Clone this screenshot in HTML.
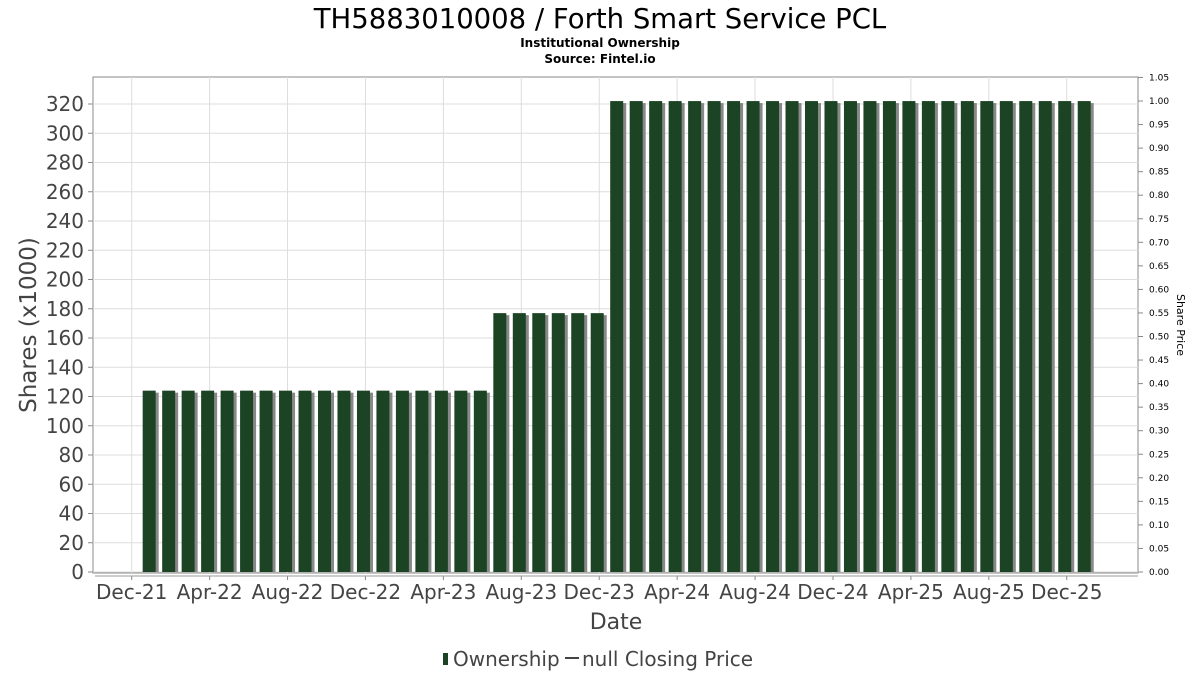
<!DOCTYPE html>
<html><head><meta charset="utf-8"><style>
body{margin:0;background:#fff;font-family:"DejaVu Sans","Liberation Sans",sans-serif}
</style></head><body>
<svg id="c" width="1200" height="675" xmlns="http://www.w3.org/2000/svg">
<text x="600" y="28" text-anchor="middle" font-size="27.5" fill="#000">TH5883010008 / Forth Smart Service PCL</text>
<text x="600" y="47" text-anchor="middle" font-size="12" font-weight="bold">Institutional Ownership</text>
<text x="600" y="63" text-anchor="middle" font-size="12" font-weight="bold">Source: Fintel.io</text>
<rect x="93" y="77" width="1045" height="496" fill="#fff" stroke="#888"/>
<g id="grid"></g><g id="bars"></g><g id="axes"></g>
<text transform="translate(36,325) rotate(-90)" text-anchor="middle" font-size="23" fill="#444">Shares (x1000)</text>
<text transform="translate(1177,325) rotate(90)" text-anchor="middle" font-size="11" fill="#000">Share Price</text>
<text x="616" y="629" text-anchor="middle" font-size="22" fill="#444">Date</text>
<g>
<rect x="443" y="653" width="5" height="12" fill="#1c4424"/>
<text x="453" y="666" font-size="20" fill="#444">Ownership</text>
<line x1="565" y1="658" x2="579" y2="658" stroke="#444" stroke-width="2"/>
<text x="582" y="666" font-size="20" fill="#444">null Closing Price</text>
</g>
</svg>
<script>
const xLabels=["Dec-21","Apr-22","Aug-22","Dec-22","Apr-23","Aug-23","Dec-23","Apr-24","Aug-24","Dec-24","Apr-25","Aug-25","Dec-25"];
const yTicks=[0,20,40,60,80,100,120,140,160,180,200,220,240,260,280,300,320];
const y2Ticks=[0,0.05,0.1,0.15,0.2,0.25,0.3,0.35,0.4,0.45,0.5,0.55,0.6,0.65,0.7,0.75,0.8,0.85,0.9,0.95,1.0,1.05];
const barMonths=[1,2,3,4,5,6,7,8,9,10,11,12,13,14,15,16,17,18,19,20,21,22,23,24,25,26,27,28,29,30,31,32,33,34,35,36,37,38,39,40,41,42,43,44,45,46,47,48,49];
const barValues=[124,124,124,124,124,124,124,124,124,124,124,124,124,124,124,124,124,124,177,177,177,177,177,177,322,322,322,322,322,322,322,322,322,322,322,322,322,322,322,322,322,322,322,322,322,322,322,322,322];
const NS="http://www.w3.org/2000/svg";
const X=m=>131.7+m*19.48;
const Y=v=>572-v*1.4625;
const Y2=v=>572-v*471;
function mk(t,a,p){const e=document.createElementNS(NS,t);for(const k in a)e.setAttribute(k,a[k]);p.appendChild(e);return e;}
const grid=document.getElementById('grid'),bars=document.getElementById('bars'),axes=document.getElementById('axes');
yTicks.forEach(v=>{
  const l=mk('line',{x1:93,x2:1138,y1:Y(v),y2:Y(v),stroke:'#ddd'},grid);
  
  
  mk('line',{x1:88,x2:93,y1:Y(v),y2:Y(v),stroke:'#888'},axes);
  const t=mk('text',{x:84,y:Y(v)+7,'text-anchor':'end','font-size':20,fill:'#444'},axes);
  t.textContent=v;
  
  
});
y2Ticks.forEach(v=>{
  mk('line',{x1:1138,x2:1143,y1:Y2(v),y2:Y2(v),stroke:'#888'},axes);
  const t=mk('text',{x:1149,y:Y2(v)+3,'font-size':9,fill:'#000'},axes);
  t.textContent=v.toFixed(2);
  
  
});
xLabels.forEach((s,i)=>{
  const x=X(i*4);
  const l=mk('line',{x1:x,x2:x,y1:77,y2:573,stroke:'#ddd'},grid);
  
  
  mk('line',{x1:x,x2:x,y1:576,y2:580,stroke:'#888'},axes);
  const t=mk('text',{x:x,y:599,'text-anchor':'middle','font-size':20,fill:'#444'},axes);
  t.textContent=s;
  
  
});
mk('line',{x1:95,x2:1138,y1:576,y2:576,stroke:'#999'},axes);
barMonths.forEach((m,i)=>{
  const cx=X(m)-2,top=Y(barValues[i]);
  const s=mk('rect',{x:cx-6.5+3,y:top+2,width:13,height:572-top-2,fill:'#888'},bars);
  
  
  const b=mk('rect',{x:cx-6.5,y:top,width:13,height:572-top,fill:'#1c4424'},bars);
  
  
});
</script>
</body></html>
